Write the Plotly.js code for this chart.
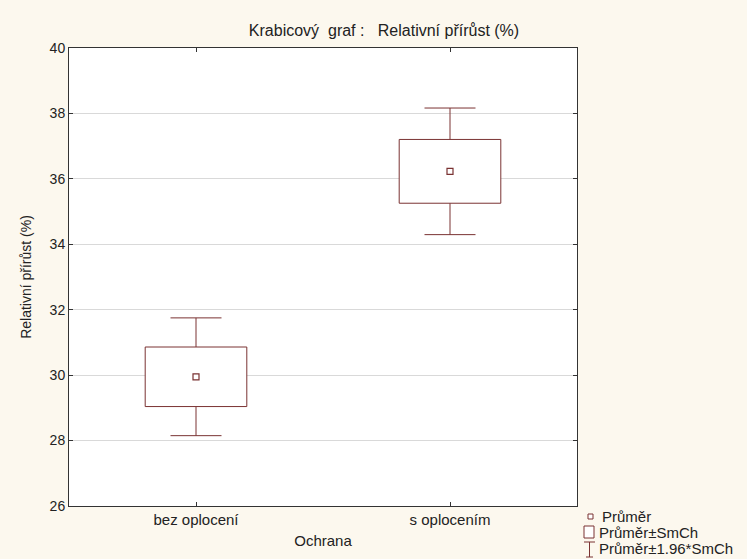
<!DOCTYPE html>
<html>
<head>
<meta charset="utf-8">
<script src="https://cdn.plot.ly/plotly-3.0.1.min.js"></script>
<style>html,body{margin:0;padding:0;background:#fcf8ee;}</style>
</head>
<body>
<div id="chart" style="width:747px;height:559px;"></div>
<script>
// Data
const categories = ['bez oplocení', 's oplocením'];
const means      = [29.95, 36.23];
const se         = [0.91, 0.975];     // SmCh (box half-height)
const se196      = [1.80, 1.935];     // 1.96*SmCh (whisker half-length)
const yTicks     = [26, 28, 30, 32, 34, 36, 38, 40];
const legendLabels = ['Průměr', 'Průměr±SmCh', 'Průměr±1.96*SmCh'];

const W = 747, H = 559;
const L = 69, R = 577, T = 48, B = 506;
const px2x = p => (p - L) / (R - L);
const px2y = p => (B - p) / (B - T);

const C = '#7a3232';
const FONT = 'Liberation Sans, Arial, sans-serif';

const boxLow    = means.map((m, i) => m - se[i]);
const boxHeight = se.map(s => 2 * s);

const traces = [
  {
    // whiskers: transparent bar carrying the ±1.96*SmCh error bars at the mean
    type: 'bar',
    name: legendLabels[2],
    x: categories,
    y: means,
    width: 0.4,
    marker: {color: 'rgba(0,0,0,0)', line: {width: 0}},
    error_y: {type: 'data', symmetric: true, array: se196,
              color: C, thickness: 1, width: 25.5},
    showlegend: false,
    hoverinfo: 'skip'
  },
  {
    // boxes: ±SmCh, white fill hides the whisker stem
    type: 'bar',
    name: legendLabels[1],
    x: categories,
    base: boxLow,
    y: boxHeight,
    width: 0.4,
    marker: {color: '#ffffff', line: {color: C, width: 1}},
    showlegend: false,
    hoverinfo: 'skip'
  },
  {
    type: 'scatter',
    mode: 'markers',
    name: legendLabels[0],
    x: categories,
    y: means,
    marker: {symbol: 'square-open', size: 6, color: C, line: {width: 1.2, color: C}},
    showlegend: false,
    hoverinfo: 'skip'
  }
];

const legendY = [516, 532, 548];
const legendX = [600, 597, 597];

const annotations = legendLabels.map((t, i) => ({
  text: t, xref: 'paper', yref: 'paper',
  x: px2x(legendX[i]), y: px2y(legendY[i]),
  xanchor: 'left', yanchor: 'middle', showarrow: false,
  font: {family: FONT, size: 15, color: '#222'}
}));

const shapes = [
  {type: 'rect', xref: 'paper', yref: 'paper',
   x0: px2x(588), x1: px2x(593), y0: px2y(514), y1: px2y(519),
   line: {color: C, width: 1}, fillcolor: '#ffffff'},
  {type: 'rect', xref: 'paper', yref: 'paper',
   x0: px2x(584), x1: px2x(594), y0: px2y(526), y1: px2y(538),
   line: {color: C, width: 1}, fillcolor: '#ffffff'},
  {type: 'path', xref: 'paper', yref: 'paper',
   path: 'M' + px2x(584) + ',' + px2y(542) + ' L' + px2x(595) + ',' + px2y(542) +
         ' M' + px2x(589.5) + ',' + px2y(542) + ' L' + px2x(589.5) + ',' + px2y(557) +
         ' M' + px2x(586) + ',' + px2y(557) + ' L' + px2x(593) + ',' + px2y(557),
   line: {color: C, width: 1}}
];

const layout = {
  width: W, height: H,
  margin: {l: L, r: W - R, t: T, b: H - B},
  paper_bgcolor: '#fcf8ee',
  plot_bgcolor: '#ffffff',
  font: {family: FONT, size: 14, color: '#222'},
  title: {
    text: 'Krabicový\u00a0\u00a0graf :\u00a0\u00a0\u00a0Relativní přírůst (%)',
    x: 384 / W, xanchor: 'center', xref: 'container',
    y: 1 - 30 / H, yanchor: 'middle', yref: 'container',
    font: {family: FONT, size: 16, color: '#222'}
  },
  showlegend: false,
  barmode: 'overlay',
  xaxis: {
    type: 'category',
    range: [-0.5, 1.5],
    showline: true, linecolor: '#333', linewidth: 1,
    mirror: 'ticks', ticks: 'inside', ticklen: 4, tickcolor: '#333',
    showgrid: false, zeroline: false,
    tickfont: {family: FONT, size: 15, color: '#222'},
    title: {text: 'Ochrana', font: {family: FONT, size: 15, color: '#222'}, standoff: 8}
  },
  yaxis: {
    range: [26, 40],
    tickvals: yTicks,
    showline: true, linecolor: '#333', linewidth: 1,
    mirror: 'ticks', ticks: 'inside', ticklen: 4, tickcolor: '#333',
    showgrid: true, gridcolor: '#d9d9d9', gridwidth: 1,
    zeroline: false,
    tickfont: {family: FONT, size: 14, color: '#222'},
    title: {text: 'Relativní přírůst (%)', font: {family: FONT, size: 14, color: '#222'}, standoff: 14}
  },
  annotations: annotations,
  shapes: shapes
};

Plotly.newPlot('chart', traces, layout, {staticPlot: true, displayModeBar: false});
</script>
</body>
</html>
